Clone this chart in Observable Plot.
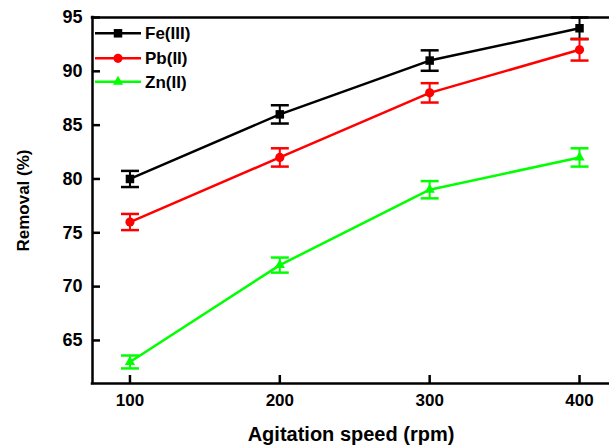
<!DOCTYPE html>
<html>
<head>
<meta charset="utf-8">
<script src="https://cdn.jsdelivr.net/npm/d3@7"></script>
<script src="https://cdn.jsdelivr.net/npm/@observablehq/plot@0.6"></script>
<style>
  html, body { margin: 0; padding: 0; background: #fff; }
  #wrap { position: relative; width: 609px; height: 445px; overflow: hidden; }
  #legend { position: absolute; left: 0; top: 0; pointer-events: none; }
</style>
</head>
<body>
<div id="wrap"></div>
<script>
// ---- data ----
const speeds = [100, 200, 300, 400];
const feValues = [80, 86, 91, 94];
const feErrors = [0.75, 0.85, 0.95, 1.0];
const pbValues = [76, 82, 88, 92];
const pbErrors = [0.75, 0.85, 0.9, 1.0];
const znValues = [63, 72, 79, 82];
const znErrors = [0.6, 0.7, 0.8, 0.85];
const seriesNames = ["Fe(III)", "Pb(II)", "Zn(II)"];
const seriesColors = ["#000000", "#ff0000", "#00ff00"];
const seriesSymbols = ["square", "circle", "triangle"];
const xTicks = [100, 200, 300, 400];
const yTicks = [65, 70, 75, 80, 85, 90, 95];
const xLabel = "Agitation speed (rpm)";
const yLabel = "Removal (%)";
const xDomain = [75, 420];
const yDomain = [61, 95];

const allValues = [feValues, pbValues, znValues];
const allErrors = [feErrors, pbErrors, znErrors];
const data = [];
seriesNames.forEach((name, i) => {
  speeds.forEach((s, j) => {
    data.push({series: name, x: s, y: allValues[i][j], lo: allValues[i][j] - allErrors[i][j], hi: allValues[i][j] + allErrors[i][j]});
  });
});

const capSymbol = {
  draw(context, size) {
    const r = Math.sqrt(size / Math.PI);
    context.moveTo(-r, 0);
    context.lineTo(r, 0);
  }
};

const W = 609, H = 445;
const mL = 92, mR = 0, mT = 17, mB = 62;
const plotW = W - mL - mR, plotH = H - mT - mB;
const FONT = "'Liberation Sans', Arial, Helvetica, sans-serif";
const SW = 2.5;

const marks = [];
// frame: left, bottom, top
marks.push(Plot.ruleX([xDomain[0]], {stroke: "#000", strokeWidth: SW, strokeLinecap: "square"}));
marks.push(Plot.ruleY([yDomain[0], yDomain[1]], {stroke: "#000", strokeWidth: SW, strokeLinecap: "square"}));
// inward ticks
marks.push(Plot.tickX(xTicks, {x: d => d, insetTop: plotH - 8, stroke: "#000", strokeWidth: SW}));
marks.push(Plot.tickY(yTicks, {y: d => d, insetRight: plotW - 8, stroke: "#000", strokeWidth: SW}));
// tick labels
marks.push(Plot.axisX({ticks: xTicks, tickSize: 0, tickPadding: 10, fontSize: 17, fontWeight: "bold", fill: "#000", label: null, tickFormat: d => String(d)}));
marks.push(Plot.axisY({ticks: yTicks, tickSize: 0, tickPadding: 10, fontSize: 18, fontWeight: "bold", fill: "#000", label: null, tickFormat: d => String(d)}));
// axis titles
marks.push(Plot.text([xLabel], {text: d => d, frameAnchor: "bottom", dy: 51, lineAnchor: "middle", fontSize: 20, fontWeight: "bold", fill: "#000"}));
marks.push(Plot.text([yLabel], {text: d => d, frameAnchor: "left", dx: -69, rotate: -90, lineAnchor: "middle", textAnchor: "middle", fontSize: 17, fontWeight: "bold", fill: "#000"}));

seriesNames.forEach((name, i) => {
  const sub = data.filter(d => d.series === name);
  const c = seriesColors[i];
  marks.push(Plot.line(sub, {x: "x", y: "y", stroke: c, strokeWidth: SW}));
  marks.push(Plot.ruleX(sub, {x: "x", y1: "lo", y2: "hi", stroke: c, strokeWidth: 2}));
  marks.push(Plot.dot(sub, {x: "x", y: "lo", symbol: capSymbol, r: 9, stroke: c, strokeWidth: SW, fill: "none"}));
  marks.push(Plot.dot(sub, {x: "x", y: "hi", symbol: capSymbol, r: 9, stroke: c, strokeWidth: SW, fill: "none"}));
  const r = seriesSymbols[i] === "square" ? 4.8 : seriesSymbols[i] === "circle" ? 4.6 : 3.8;
  marks.push(Plot.dot(sub, {x: "x", y: "y", symbol: seriesSymbols[i], r, fill: c, stroke: "none"}));
});

const chart = Plot.plot({
  width: W, height: H,
  marginLeft: mL, marginRight: mR, marginTop: mT, marginBottom: mB,
  style: {fontFamily: FONT, background: "#fff", overflow: "visible"},
  x: {domain: xDomain},
  y: {domain: yDomain},
  marks
});
document.getElementById("wrap").appendChild(chart);

// legend overlay
const leg = d3.select("#wrap").append("svg")
  .attr("id", "legend").attr("width", W).attr("height", H);
const rowsY = [33.3, 58.3, 81.7];
const symMap = {square: d3.symbolSquare, circle: d3.symbolCircle, triangle: d3.symbolTriangle};
seriesNames.forEach((name, i) => {
  const y = rowsY[i];
  const g = leg.append("g");
  g.append("line").attr("x1", 95).attr("x2", 141).attr("y1", y).attr("y2", y)
    .attr("stroke", seriesColors[i]).attr("stroke-width", SW);
  const r = seriesSymbols[i] === "square" ? 4.8 : seriesSymbols[i] === "circle" ? 4.6 : 3.8;
  g.append("path").attr("d", d3.symbol(symMap[seriesSymbols[i]], r * r * Math.PI)())
    .attr("transform", `translate(118,${y})`).attr("fill", seriesColors[i]);
  g.append("text").attr("x", 145).attr("y", y).attr("dy", "0.35em")
    .attr("font-family", FONT).attr("font-weight", "bold").attr("font-size", 17)
    .attr("fill", "#000").text(name);
});
</script>
</body>
</html>
